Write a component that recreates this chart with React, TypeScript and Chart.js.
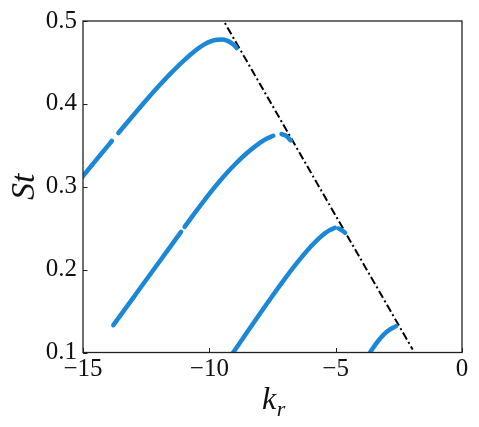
import React, { useEffect, useRef } from "react";
import { Chart, registerables } from "chart.js";

Chart.register(...registerables);

// Branch 1 (top), split in two pieces by a small gap
const branch1aK = [-15.3, -15.0, -14.5, -14.0, -13.86];
const branch1aSt = [0.302, 0.313, 0.3315, 0.35, 0.3552];
const branch1bK = [-13.6, -13.0, -12.5, -12.0, -11.5, -11.0, -10.5, -10.2, -9.9, -9.7, -9.5, -9.3, -9.12, -9.0, -8.92];
const branch1bSt = [0.3648, 0.3866, 0.4044, 0.4215, 0.4377, 0.4525, 0.4655, 0.4718, 0.476, 0.4773, 0.4776, 0.4763, 0.4733, 0.4703, 0.4673];

// Branch 2
const branch2aK = [-13.8, -13.0, -12.2, -11.12];
const branch2aSt = [0.133, 0.1666, 0.2002, 0.2456];
const branch2bK = [-10.98, -10.5, -10.0, -9.5, -9.0, -8.5, -8.0, -7.7, -7.47];
const branch2bSt = [0.2515, 0.2715, 0.2915, 0.31, 0.3265, 0.341, 0.353, 0.3585, 0.3615];
const branch2cK = [-7.14, -6.95, -6.78];
const branch2cSt = [0.3635, 0.361, 0.356];

// Branch 3
const branch3aK = [-9.2, -9.0, -8.5, -8.0, -7.5, -7.0, -6.5, -6.0, -5.5, -5.25, -5.03];
const branch3aSt = [0.0935, 0.1025, 0.1248, 0.1468, 0.1685, 0.1895, 0.2093, 0.2273, 0.2422, 0.2474, 0.2505];
const branch3bK = [-4.88, -4.75, -4.63];
const branch3bSt = [0.2495, 0.2475, 0.2445];

// Branch 4
const branch4K = [-3.75, -3.64, -3.4, -3.1, -2.85, -2.61];
const branch4St = [0.095, 0.1, 0.1108, 0.1215, 0.1278, 0.1318];

// Dash-dot boundary line
const boundaryK = [-9.6, -1.95];
const boundarySt = [0.509, 0.1035];

const xTicks = [-15, -10, -5, 0];
const yTicks = [0.1, 0.2, 0.3, 0.4, 0.5];

const BLUE = "#1b87d8";
const FONT = "'Liberation Serif', 'DejaVu Serif', serif";

const pts = (k: number[], s: number[]) => k.map((v, i) => ({ x: v, y: s[i] }));

const curve = (k: number[], s: number[]) => ({
  data: pts(k, s),
  showLine: true,
  borderColor: BLUE,
  backgroundColor: BLUE,
  borderWidth: 4.5,
  pointRadius: 0,
  borderCapStyle: "round" as const,
  borderJoinStyle: "round" as const,
  cubicInterpolationMode: "monotone" as const,
});

const decorPlugin = {
  id: "decor",
  afterDraw(chart: any) {
    const { ctx, chartArea, scales } = chart;
    const { left, right, top, bottom } = chartArea;
    ctx.save();
    ctx.strokeStyle = "#222";
    ctx.lineWidth = 1;
    // inward ticks
    ctx.beginPath();
    xTicks.forEach((v) => {
      const px = Math.round(scales.x.getPixelForValue(v)) + 0.5;
      ctx.moveTo(px, bottom);
      ctx.lineTo(px, bottom - 4.5);
    });
    yTicks.forEach((v) => {
      const py = Math.round(scales.y.getPixelForValue(v)) + 0.5;
      ctx.moveTo(left, py);
      ctx.lineTo(left + 4.5, py);
    });
    ctx.stroke();
    // frame
    ctx.lineWidth = 1.3;
    ctx.strokeRect(left, top, right - left, bottom - top);

    // axis titles
    ctx.fillStyle = "#111";
    ctx.textBaseline = "alphabetic";
    // x title k_r
    ctx.font = `italic 32px ${FONT}`;
    const kW = ctx.measureText("k").width;
    ctx.font = `italic 22px ${FONT}`;
    const rW = ctx.measureText("r").width;
    const cx = (left + right) / 2 + 1;
    const startX = cx - (kW + rW) / 2;
    ctx.font = `italic 32px ${FONT}`;
    ctx.textAlign = "left";
    ctx.fillText("k", startX, 409);
    ctx.font = `italic 22px ${FONT}`;
    ctx.fillText("r", startX + kW + 0.5, 416);
    // y title St
    ctx.save();
    ctx.translate(34, (top + bottom) / 2);
    ctx.rotate(-Math.PI / 2);
    ctx.textAlign = "center";
    ctx.font = `italic 34px ${FONT}`;
    ctx.fillText("St", 0, 0);
    ctx.restore();
    ctx.restore();
  },
};

export default function App() {
  const ref = useRef<HTMLCanvasElement | null>(null);
  useEffect(() => {
    if (!ref.current) return;
    const chart = new Chart(ref.current, {
      type: "scatter",
      data: {
        datasets: [
          curve(branch1aK, branch1aSt),
          curve(branch1bK, branch1bSt),
          curve(branch2aK, branch2aSt),
          curve(branch2bK, branch2bSt),
          curve(branch2cK, branch2cSt),
          curve(branch3aK, branch3aSt),
          curve(branch3bK, branch3bSt),
          curve(branch4K, branch4St),
          {
            data: pts(boundaryK, boundarySt),
            showLine: true,
            borderColor: "#000",
            backgroundColor: "#000",
            borderWidth: 2,
            borderDash: [8, 3, 2, 3],
            pointRadius: 0,
          },
        ],
      },
      options: {
        responsive: false,
        animation: false,
        devicePixelRatio: 1,
        layout: { padding: { top: 19.5, right: 17, left: 0, bottom: 0 } },
        plugins: { legend: { display: false }, tooltip: { enabled: false } },
        scales: {
          x: {
            type: "linear",
            min: -15,
            max: 0,
            afterFit: (s: any) => {
              s.height = 74.5;
            },
            afterBuildTicks: (s: any) => {
              s.ticks = xTicks.map((v) => ({ value: v }));
            },
            grid: { display: false, drawTicks: false },
            border: { display: false },
            ticks: {
              autoSkip: false,
              maxRotation: 0,
              padding: 2,
              color: "#111",
              font: { family: FONT, size: 25 },
              callback: (v: any) => (v < 0 ? "\u2212" + Math.abs(v) : String(v)),
            },
          },
          y: {
            type: "linear",
            min: 0.1,
            max: 0.5,
            afterFit: (s: any) => {
              s.width = 83;
            },
            afterBuildTicks: (s: any) => {
              s.ticks = yTicks.map((v) => ({ value: v }));
            },
            grid: { display: false, drawTicks: false },
            border: { display: false },
            ticks: {
              autoSkip: false,
              padding: 6,
              color: "#111",
              font: { family: FONT, size: 25 },
              callback: (v: any) => Number(v).toFixed(1),
            },
          },
        },
      },
      plugins: [decorPlugin],
    });
    return () => chart.destroy();
  }, []);
  return (
    <div style={{ position: "fixed", left: 0, top: 0, width: 479, height: 427, background: "#fff" }}>
      <canvas ref={ref} width={479} height={427} />
    </div>
  );
}
